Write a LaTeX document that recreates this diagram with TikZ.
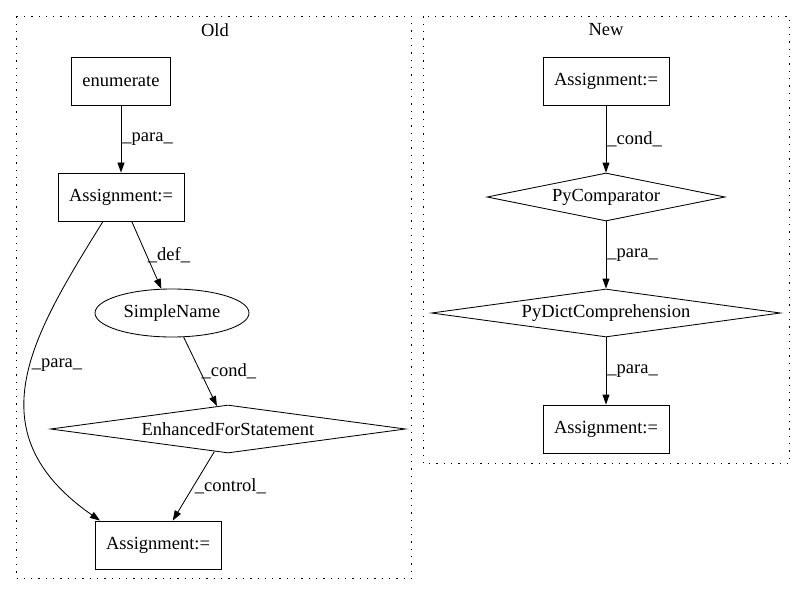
\documentclass[tikz,border=0pt]{standalone}
\usepackage{fontspec}
\setmainfont{Liberation Serif}
\usetikzlibrary{arrows.meta,shapes.geometric}
\begin{document}
\begin{tikzpicture}[x=1pt,y=-1pt,>={Stealth[length=10pt,width=7pt,inset=0pt]},
	font=\fontsize{18.5}{21}\selectfont,line width=0.85pt,
	box/.style={draw,minimum height=48pt,inner xsep=11pt},
	cond/.style={draw,diamond,aspect=7,inner sep=0pt,minimum height=48pt},
	oval/.style={draw,ellipse,minimum width=154pt,minimum height=48pt},
	clusterbox/.style={dash pattern=on 1.3pt off 6pt,line width=1.1pt},
	lbl/.style={right,inner sep=1pt}]
	\useasboundingbox (0,0) rectangle (805,596);
	\draw[clusterbox] (16.5,16.5) rectangle (411.5,578.5);
	\draw[clusterbox] (423.5,16.5) rectangle (789.5,463.5);
	\node (oldtitle) at (215,30) {Old};
	\node (newtitle) at (606,30) {New};
	\node[box,minimum width=99pt] (enum) at (121,81) {enumerate};
	\node[box,minimum width=126pt] (asgA) at (121,197) {Assignment:=};
	\node[oval] (simple) at (172,313) {SimpleName};
	\node[cond,minimum width=355pt] (efs) at (228,429) {EnhancedForStatement};
	\node[box,minimum width=126pt] (asgB) at (158,545) {Assignment:=};
	\node[box,minimum width=126pt] (asgC) at (606,81) {Assignment:=};
	\node[cond,minimum width=238pt] (cmp) at (606,197) {PyComparator};
	\node[cond,minimum width=349pt] (dict) at (606,313) {PyDictComprehension};
	\node[box,minimum width=126pt] (asgD) at (606,429) {Assignment:=};
	\draw[->] (enum)--(asgA) node[lbl,midway]{\_para\_};
	\draw[->] (asgA)--(simple) node[lbl,midway]{\_def\_};
	\draw[->] (simple)--(efs) node[lbl,midway]{\_cond\_};
	\draw[->] (efs)--(asgB) node[lbl,midway]{\_control\_};
	\draw[->] ([xshift=-18pt]asgA.south) .. controls +(-70,113) and +(-128,-89) .. ([xshift=-58pt]asgB.north) node[lbl,pos=0.45]{\_para\_};
	\draw[->] (asgC)--(cmp) node[lbl,midway]{\_cond\_};
	\draw[->] (cmp)--(dict) node[lbl,midway]{\_para\_};
	\draw[->] (dict)--(asgD) node[lbl,midway]{\_para\_};
\end{tikzpicture}
\end{document}
